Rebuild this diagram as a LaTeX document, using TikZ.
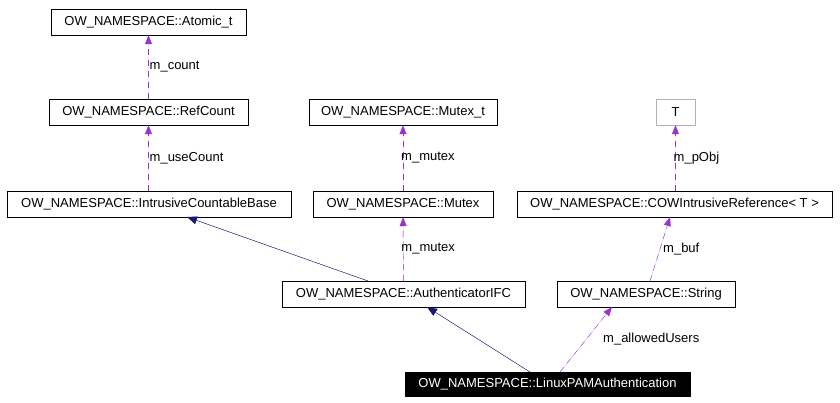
\documentclass[tikz,border=0pt]{standalone}
\usepackage{fontspec}
\setmainfont{Liberation Sans}
\usetikzlibrary{arrows.meta}
\begin{document}
\begin{tikzpicture}[x=1pt,y=-1pt,
  box/.style={draw=black,fill=white,minimum height=26pt,inner sep=0pt,font=\fontsize{13}{15}\selectfont},
  use/.style={draw={rgb,255:red,153;green,51;blue,204},dash pattern=on 6pt off 5pt,-{Triangle[length=9pt,width=7pt]},fill={rgb,255:red,153;green,51;blue,204}},
  inh/.style={draw={rgb,255:red,25;green,25;blue,112},-{Triangle[length=10pt,width=8pt]},fill={rgb,255:red,25;green,25;blue,112}},
  lab/.style={font=\fontsize{13}{15}\selectfont,inner sep=1pt}]
\useasboundingbox (0,0) rectangle (840,403);
\node[box,minimum width=195pt] (at) at (148.5,22) {OW\_NAMESPACE::Atomic\_t};
\node[box,minimum width=199pt] (rc) at (148.5,112) {OW\_NAMESPACE::RefCount};
\node[box,minimum width=188pt] (mt) at (403,112) {OW\_NAMESPACE::Mutex\_t};
\node[box,draw=gray!60,minimum width=39pt] (t) at (675.5,112) {T};
\node[box,minimum width=284pt] (icb) at (149,204) {OW\_NAMESPACE::IntrusiveCountableBase};
\node[box,minimum width=180pt] (mx) at (403,204) {OW\_NAMESPACE::Mutex};
\node[box,minimum width=315pt] (cow) at (674.5,204) {OW\_NAMESPACE::COWIntrusiveReference< T >};
\node[box,minimum width=243pt] (ai) at (403.5,294) {OW\_NAMESPACE::AuthenticatorIFC};
\node[box,minimum width=178pt] (st) at (646,294) {OW\_NAMESPACE::String};
\node[box,fill=black,text=white,minimum width=285pt,minimum height=24pt] (lp) at (547.5,384) {OW\_NAMESPACE::LinuxPAMAuthentication};
\draw[use] (rc) -- (at) node[lab,midway,right] {m\_count};
\draw[use] (icb.north -| rc) -- (rc) node[lab,midway,right] {m\_useCount};
\draw[use] (mx) -- (mt) node[lab,midway,right=-3pt] {m\_mutex};
\draw[use] (cow.north -| t) -- (t) node[lab,midway,right=-3pt] {m\_pObj};
\draw[use] (ai) -- (mx) node[lab,midway,right=-3pt] {m\_mutex};
\coordinate (s1) at (650,281); \coordinate (c1) at (670,217);
\draw[use] (s1) -- (c1) node[lab,midway,right=2pt] {m\_buf};
\coordinate (l1) at (560,372); \coordinate (s2) at (612,307);
\draw[use] (l1) -- (s2) node[lab,pos=0.5,right=16pt] {m\_allowedUsers};
\coordinate (a1) at (368,281); \coordinate (i1) at (187,217);
\draw[inh] (a1) -- (i1);
\coordinate (l2) at (530,372); \coordinate (a2) at (427,307);
\draw[inh] (l2) -- (a2);
\end{tikzpicture}
\end{document}
